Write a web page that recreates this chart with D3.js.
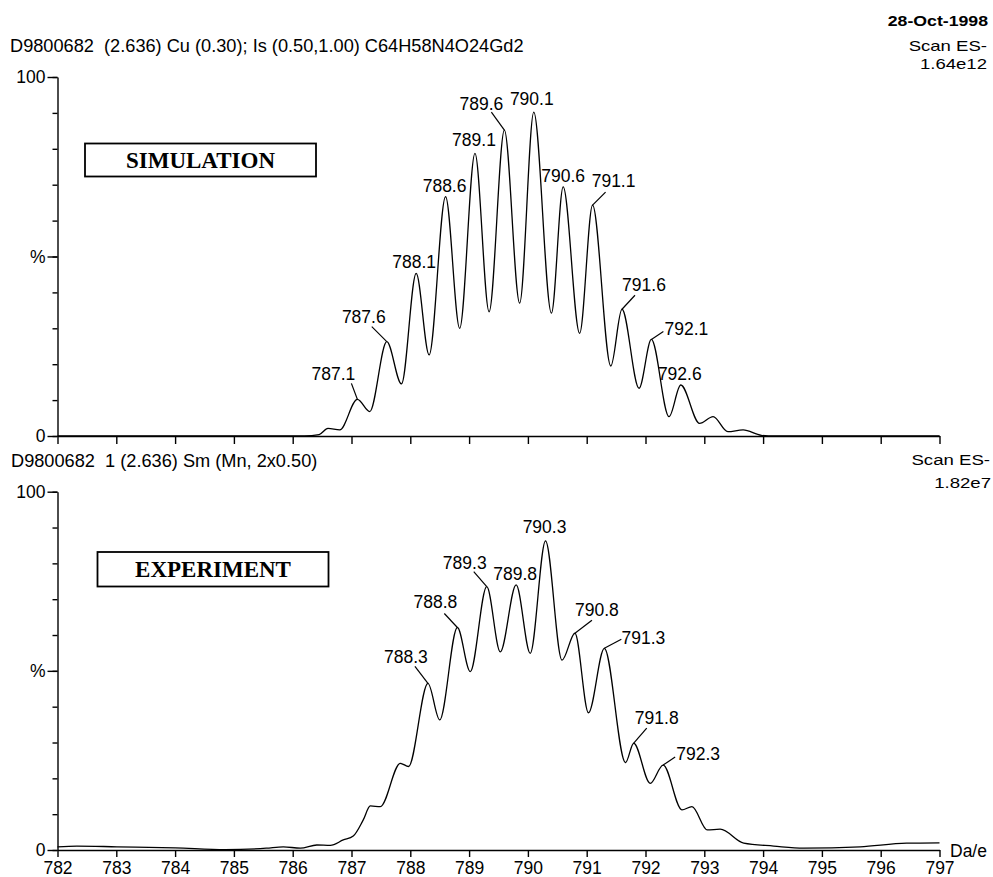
<!DOCTYPE html>
<html>
<head>
<meta charset="utf-8">
<script src="https://cdn.jsdelivr.net/npm/d3@7"></script>
<style>
  html, body { margin: 0; padding: 0; background: #fff; }
  svg { display: block; }
  text { fill: #000; white-space: pre; }
</style>
</head>
<body>
<svg id="chart" width="993" height="877"></svg>
<script>
// ---- data ----------------------------------------------------------------
// m/z axis ticks (Da/e)
const mzTicks = d3.range(782, 798, 1);
// relative intensity ticks (%)
const pctMinorTicks = d3.range(0, 101, 10);
const pctMajorTicks = [0, 50, 100];
const pctMajorLabels = ["0", "%", "100"];

// Simulated isotope pattern for C64H58N4O24Gd2: [m/z, %]
const simMz = [782.0, 786.2, 786.45, 786.6, 786.8, 787.1, 787.31, 787.6, 787.85, 788.1, 788.32,
  788.6, 788.84, 789.1, 789.34, 789.6, 789.86, 790.1, 790.40, 790.6, 790.88, 791.1, 791.41,
  791.6, 791.89, 792.1, 792.40, 792.6, 792.92, 793.15, 793.40, 793.66, 793.97, 794.2, 797.0];
const simPct = [0, 0, 0.4, 2.1, 1.7, 10.2, 6.8, 26.3, 14.5, 45.3, 22.6,
  66.7, 30.0, 78.7, 34.6, 85.2, 37.0, 90.2, 34.2, 69.4, 28.6, 64.3, 19.5,
  35.3, 13.3, 26.9, 5.4, 14.2, 3.5, 5.4, 1.2, 1.7, 0.2, 0, 0];

// Measured spectrum (smoothed, Mn 2x0.50): [m/z, %]
const expMz = [782.0, 782.33, 783.01, 784.0, 784.85, 785.55, 785.84, 786.13, 786.41, 786.64,
  786.86, 787.03, 787.2, 787.32, 787.49, 787.83, 787.97, 788.3, 788.5, 788.8, 789.02, 789.3,
  789.53, 789.8, 790.04, 790.3, 790.58, 790.8, 791.03, 791.3, 791.66, 791.8, 792.08, 792.3,
  792.62, 792.79, 793.05, 793.27, 793.67, 794.18, 794.69, 795.65, 796.44, 797.0];
const expPct = [0.9, 1.1, 0.9, 0.6, 0.1, 0.5, 0.9, 0.5, 1.4, 1.3,
  2.8, 3.9, 8.4, 12.3, 12.1, 24.2, 23.3, 46.5, 36.3, 62.1, 49.8, 73.5,
  55.3, 74.0, 54.9, 86.3, 53.0, 60.5, 38.3, 56.3, 24.4, 29.8, 18.6, 23.7,
  11.2, 12.1, 5.6, 5.8, 1.9, 1.1, 0.5, 0.9, 1.9, 2.0];

// labelled peak centroids
const simPeakLabels = ["787.1", "787.6", "788.1", "788.6", "789.1", "789.6", "790.1",
  "790.6", "791.1", "791.6", "792.1", "792.6"];
const expPeakLabels = ["788.3", "788.8", "789.3", "789.8", "790.3", "790.8", "791.3",
  "791.8", "792.3"];

// ---- label placement (pixels relative to the peak apex) --------------------
// [text dx, text baseline dy, leader start dx, leader start dy] ; null leader = none
const simLabelLayout = [
  [-24, -19, -6, -16], [-23, -19, -15, -15], [-2, -5, null, null], [-1, -5, null, null],
  [-1, -7, null, null], [-23, -20, -13, -18], [-2, -7, null, null], [0, -5, null, null],
  [21, -18, 13, -13], [22, -18, 13, -14], [35, -4, 12, -8], [-1, -5, null, null]];
const expLabelLayout = [
  [-22, -20, -13, -17], [-22, -19, -13, -14], [-22, -18, -13, -15], [-1, -5, null, null],
  [-1, -8, null, null], [22, -17, 17, -13], [39, -4, 17, -9], [23, -19, 13, -15],
  [35, -5, 12, -8]];

// ---- drawing ---------------------------------------------------------------
const svg = d3.select("#chart");
const SANS = "'Liberation Sans', Arial, sans-serif";
const SERIF = "'Liberation Serif', 'Times New Roman', serif";
const FONT = 17.5;

const x = d3.scaleLinear().domain([782, 797]).range([57.5, 939.5]);

function styleAxisText(a) {
  a.selectAll("text").style("font-family", SANS).style("font-size", FONT + "px").attr("fill", "#000");
}

function panel(cfg) {
  const y = d3.scaleLinear().domain([0, 100]).range([cfg.y0, cfg.y100]);
  const g = svg.append("g");

  // minor ticks every 10 %
  g.append("g")
    .attr("transform", `translate(${x(782)},0)`)
    .call(d3.axisLeft(y).tickValues(pctMinorTicks).tickSize(5).tickSizeOuter(0).tickFormat(""))
    .call(a => a.selectAll("line,path").attr("stroke", "#000").attr("stroke-width", 1.4));

  // major ticks with labels
  g.append("g")
    .attr("transform", `translate(${x(782)},0)`)
    .call(d3.axisLeft(y).tickValues(pctMajorTicks).tickSize(10).tickPadding(2).tickSizeOuter(0)
      .tickFormat((d, i) => pctMajorLabels[i]))
    .call(a => a.select(".domain").remove())
    .call(a => a.selectAll("line").attr("stroke", "#000").attr("stroke-width", 1.4))
    .call(styleAxisText);

  // m/z axis
  g.append("g")
    .attr("transform", `translate(0,${cfg.y0})`)
    .call(d3.axisBottom(x).tickValues(mzTicks).tickSize(cfg.xTick).tickPadding(5).tickSizeOuter(0)
      .tickFormat(cfg.xLabels ? d3.format("d") : ""))
    .call(a => a.selectAll("line,path").attr("stroke", "#000").attr("stroke-width", 1.4))
    .call(styleAxisText);

  // spectrum trace
  const pts = cfg.mz.map((m, i) => [m, cfg.pct[i]]);
  const line = d3.line().x(d => x(d[0])).y(d => y(d[1])).curve(d3.curveMonotoneX);
  g.append("path").datum(pts)
    .attr("d", line).attr("fill", "none").attr("stroke", "#000")
    .attr("stroke-width", 1.3).attr("stroke-linejoin", "round");

  // peak labels
  cfg.labels.forEach((lab, i) => {
    const m = +lab;
    const k = cfg.mz.indexOf(m);
    const px = x(m), py = y(cfg.pct[k]);
    const [tdx, tdy, ldx, ldy] = cfg.layout[i];
    g.append("text").attr("x", px + tdx).attr("y", py + tdy)
      .attr("text-anchor", "middle")
      .style("font-family", SANS).style("font-size", FONT + "px").text(lab);
    if (ldx !== null) {
      g.append("line").attr("x1", px + ldx).attr("y1", py + ldy).attr("x2", px).attr("y2", py)
        .attr("stroke", "#000").attr("stroke-width", 1.2);
    }
  });

  // title box
  g.append("rect").attr("x", cfg.box[0]).attr("y", cfg.box[1])
    .attr("width", cfg.box[2]).attr("height", cfg.box[3])
    .attr("fill", "#fff").attr("stroke", "#000").attr("stroke-width", 1.8);
  g.append("text")
    .attr("x", cfg.box[0] + cfg.box[2] / 2).attr("y", cfg.box[1] + cfg.box[3] / 2 + 8)
    .attr("text-anchor", "middle")
    .style("font-family", SERIF).style("font-weight", "bold").style("font-size", "23px")
    .text(cfg.title);
  return g;
}

panel({
  y0: 436, y100: 77, xTick: 8, xLabels: false,
  mz: simMz, pct: simPct, labels: simPeakLabels, layout: simLabelLayout,
  box: [85, 143.5, 231, 33], title: "SIMULATION"
});
panel({
  y0: 850, y100: 491.7, xTick: 7, xLabels: true,
  mz: expMz, pct: expPct, labels: expPeakLabels, layout: expLabelLayout,
  box: [97.5, 552, 231, 34.5], title: "EXPERIMENT"
});

// header texts; sx widens the glyphs horizontally like the printed header
function txt(xp, yp, s, opt) {
  const o = Object.assign({ anchor: "start", weight: "normal", size: 18.2, sx: 1 }, opt || {});
  svg.append("text")
    .attr("transform", `translate(${xp},${yp}) scale(${o.sx},1)`)
    .attr("text-anchor", o.anchor)
    .style("font-family", SANS).style("font-weight", o.weight).style("font-size", o.size + "px")
    .text(s);
}
txt(10, 52, "D9800682  (2.636) Cu (0.30); Is (0.50,1.00) C64H58N4O24Gd2");
txt(988, 26, "28-Oct-1998", { anchor: "end", weight: "bold", size: 15, sx: 1.18 });
txt(987, 51, "Scan ES-", { anchor: "end", size: 14.5, sx: 1.28 });
txt(987, 68.5, "1.64e12", { anchor: "end", size: 14.5, sx: 1.28 });
txt(11, 466.5, "D9800682  1 (2.636) Sm (Mn, 2x0.50)", { size: 18.2 });
txt(990, 465, "Scan ES-", { anchor: "end", size: 15.5, sx: 1.2 });
txt(991, 488, "1.82e7", { anchor: "end", size: 15.5, sx: 1.2 });
txt(950, 857, "Da/e", { size: 17.5 });
</script>
</body>
</html>
